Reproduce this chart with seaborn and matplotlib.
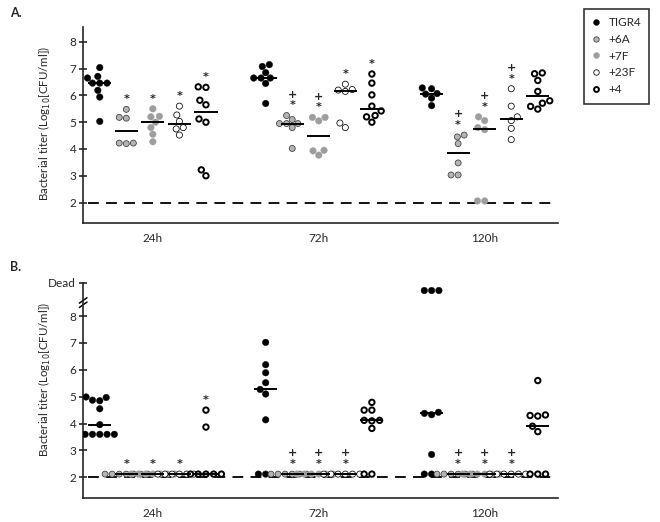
import numpy as np
import pandas as pd
import matplotlib
matplotlib.use("Agg")
import matplotlib.pyplot as plt
import matplotlib.transforms as mtransforms
from matplotlib.lines import Line2D
import seaborn as sns

times = ["24h", "72h", "120h"]
strains = ["TIGR4", "+6A", "+7F", "+23F", "+4"]

# panel A: one list per time point (24h, 72h, 120h)
a_tigr4 = [[7.04, 6.71, 6.65, 6.46, 6.46, 6.46, 6.19, 5.94, 5.03],
           [7.15, 7.08, 6.85, 6.65, 6.65, 6.65, 6.45, 5.70],
           [6.28, 6.25, 6.07, 6.05, 5.90, 5.62]]
a_6a = [[5.48, 5.18, 5.15, 4.22, 4.22, 4.20],
        [5.25, 5.10, 4.95, 4.95, 4.95, 4.80, 4.02],
        [4.52, 4.45, 4.20, 3.48, 3.03, 3.03]]
a_7f = [[5.50, 5.22, 5.20, 5.00, 4.80, 4.55, 4.27],
        [5.18, 5.18, 5.05, 3.95, 3.93, 3.77],
        [5.20, 5.06, 4.80, 4.72, 2.06, 2.06]]
a_23f = [[5.60, 5.27, 5.03, 4.80, 4.75, 4.52],
         [6.42, 6.22, 6.20, 6.15, 4.97, 4.80],
         [6.25, 5.60, 5.20, 5.06, 4.77, 4.35]]
a_4 = [[6.32, 6.30, 5.82, 5.65, 5.12, 5.00, 3.22, 3.00],
       [6.80, 6.46, 6.02, 5.60, 5.42, 5.25, 5.20, 5.00],
       [6.84, 6.81, 6.56, 6.15, 5.80, 5.71, 5.59, 5.49]]

# panel B ("Dead" animals drawn at 8.95)
b_tigr4 = [[4.99, 4.97, 4.87, 4.85, 4.55, 3.96, 3.60, 3.60, 3.60, 3.60, 3.60],
           [7.02, 6.19, 5.89, 5.52, 5.27, 5.10, 4.14, 2.12, 2.12],
           [8.95, 8.95, 8.95, 4.42, 4.38, 4.33, 2.85, 2.12, 2.12]]
b_6a = [[2.12, 2.12, 2.12, 2.12, 2.12, 2.12, 2.12],
        [2.12, 2.12, 2.12, 2.12, 2.12, 2.12],
        [2.12, 2.12, 2.12, 2.12, 2.12, 2.12]]
b_7f = [[2.12, 2.12, 2.12, 2.12, 2.12, 2.12, 2.12],
        [2.12, 2.12, 2.12, 2.12, 2.12, 2.12],
        [2.12, 2.12, 2.12, 2.12, 2.12, 2.12]]
b_23f = [[2.12, 2.12, 2.12, 2.12, 2.12, 2.12],
         [2.12, 2.12, 2.12, 2.12, 2.12, 2.12],
         [2.12, 2.12, 2.12, 2.12, 2.12, 2.12]]
b_4 = [[4.50, 3.87, 2.12, 2.12, 2.12, 2.12, 2.12],
       [4.79, 4.50, 4.50, 4.12, 4.12, 4.10, 3.82, 2.12, 2.12],
       [5.60, 4.32, 4.30, 4.28, 3.90, 3.70, 2.12, 2.12, 2.12]]

# significance marks per time point, per strain
a_marks = [["", "*", "*", "*", "*"],
           ["", "*+", "*+", "*", "*"],
           ["", "*+", "*+", "*+", ""]]
b_marks = [["", "*", "*", "*", "*"],
           ["", "*+", "*+", "*+", ""],
           ["", "*+", "*+", "*+", ""]]

dead_tick = 9.24
limit = 2

styles = {
    "TIGR4": dict(face="black", edge="black", lw=0.3, size=4.7),
    "+6A": dict(face="#b4b4b4", edge="#3a3a3a", lw=0.55, size=4.3),
    "+7F": dict(face="#9d9d9d", edge="#9d9d9d", lw=0.3, size=4.7),
    "+23F": dict(face="white", edge="black", lw=0.55, size=4.4),
    "+4": dict(face="white", edge="black", lw=1.4, size=3.9),
}


def long_frame(series):
    rows = []
    for s, per_time in zip(strains, series):
        for t, vals in zip(times, per_time):
            for v in vals:
                rows.append((t, s, v))
    return pd.DataFrame(rows, columns=["time", "strain", "titer"])


def draw_panel(ax, series, marks):
    df = long_frame(series)
    pal = {s: styles[s]["face"] for s in strains}
    for s in strains:
        st = styles[s]
        sns.swarmplot(data=df[df.strain == s], x="time", y="titer", hue="strain",
                      order=times, hue_order=strains, palette=pal, dodge=True,
                      size=st["size"], edgecolor=st["edge"], linewidth=st["lw"],
                      legend=False, warn_thresh=1, ax=ax, zorder=3)
    offsets = np.linspace(-0.32, 0.32, len(strains))
    for i, t in enumerate(times):
        for j, s in enumerate(strains):
            vals = df[(df.time == t) & (df.strain == s)].titer
            x = i + offsets[j]
            ax.hlines(np.median(vals), x - 0.07, x + 0.07, color="black", lw=1.4, zorder=5)
            m = marks[i][j]
            if "*" in m:
                ax.text(x, vals.max() + 0.38, "*", ha="center", va="center", fontsize=8,
                        fontweight="bold", family="DejaVu Sans")
            if "+" in m:
                ax.text(x, vals.max() + 0.78, "+", ha="center", va="center", fontsize=8,
                        fontweight="bold", family="DejaVu Sans")
    ax.axhline(limit, xmin=0.01, xmax=0.994, color="black", lw=1.3, ls=(0, (6, 4)), zorder=1)
    ax.set_xlim(-0.42, 2.44)
    ax.set_xlabel("")
    ax.set_ylabel("Bacterial titer (Log$_{10}$[CFU/ml])", fontsize=8.3)
    sns.despine(ax=ax)
    for side in ["left", "bottom"]:
        ax.spines[side].set_linewidth(1.2)
    ax.tick_params(axis="x", length=0, pad=7, labelsize=8.5)
    ax.tick_params(axis="y", direction="inout", length=6, width=1.2, pad=2, labelsize=8.5)


sns.set_style("ticks")
plt.rcParams["font.family"] = ["Lato", "DejaVu Sans"]

fig = plt.figure(figsize=(6.6, 5.22), dpi=100)
axA = fig.add_axes([0.126, 0.573, 0.719, 0.375])
axB = fig.add_axes([0.126, 0.0454, 0.719, 0.413])

draw_panel(axA, [a_tigr4, a_6a, a_7f, a_23f, a_4], a_marks)
axA.set_ylim(1.24, 8.55)
axA.set_yticks(range(2, 9))
axA.yaxis.set_label_coords(-0.063, 0.51)

draw_panel(axB, [b_tigr4, b_6a, b_7f, b_23f, b_4], b_marks)
axB.set_ylim(1.22, dead_tick)
axB.set_yticks(list(range(2, 9)) + [dead_tick])
axB.set_yticklabels([str(v) for v in range(2, 9)] + ["Dead"])
axB.yaxis.set_label_coords(-0.063, 0.55)
blend = mtransforms.blended_transform_factory(axB.transAxes, axB.transData)
for dy in (-0.08, 0.08):
    axB.plot([-0.008, 0.008], [8.5 + dy - 0.1, 8.5 + dy + 0.1], transform=blend,
             color="black", lw=1.1, clip_on=False)

fig.text(10 / 660, 1 - 13 / 522, "A.", fontsize=9, fontweight="bold", va="center")
fig.text(10 / 660, 1 - 267 / 522, "B.", fontsize=9, fontweight="bold", va="center")

handles = [Line2D([], [], ls="none", marker="o", markersize=styles[s]["size"] * 0.9,
                  markerfacecolor=styles[s]["face"], markeredgecolor=styles[s]["edge"],
                  markeredgewidth=styles[s]["lw"]) for s in strains]
leg = fig.legend(handles, strains, loc="upper right", bbox_to_anchor=(0.993, 0.995),
                 frameon=True, fancybox=False, edgecolor="black", fontsize=8.5,
                 handlelength=0.7, handletextpad=0.7, labelspacing=0.5, borderpad=0.7)
leg.get_frame().set_linewidth(1.2)

fig.savefig("out.png", dpi=100)
